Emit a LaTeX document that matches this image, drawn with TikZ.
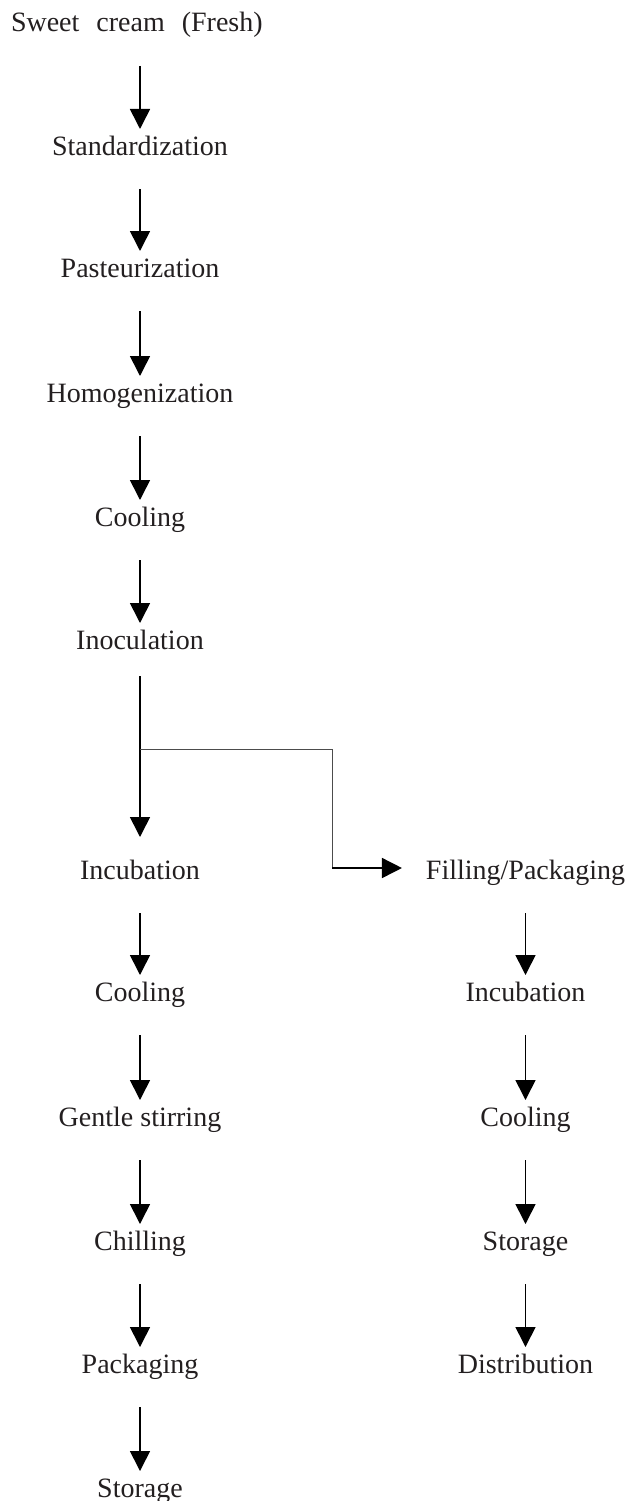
\documentclass[tikz,border=0pt]{standalone}
\usepackage{fontspec}
\setmainfont{Liberation Serif}
\usetikzlibrary{arrows.meta}
\definecolor{ink}{HTML}{231F20}
\begin{document}
\begin{tikzpicture}[x=1pt,y=1pt,
  stage/.style={anchor=base, inner xsep=0pt, inner ysep=8pt, outer sep=0pt,
    text height=18pt, text depth=26pt, text=ink,
    font=\fontsize{28pt}{34pt}\selectfont},
  flow/.style={line width=1.6pt, -{Triangle[length=20pt,width=20pt]}},
  branchline/.style={line width=0.9pt, draw=black!70}]
\useasboundingbox (0,0) rectangle (624,-1501);
% left column
\node[stage, anchor=base west] (s0) at (11,-32) {Sweet\hspace{17pt}cream\hspace{17pt}(Fresh)};
\node[stage] (s1) at (140,-155) {Standardization};
\node[stage] (s2) at (140,-277) {Pasteurization};
\node[stage] (s3) at (140,-402) {Homogenization};
\node[stage] (s4) at (140,-526) {Cooling};
\node[stage] (s5) at (140,-649) {Inoculation};
\node[stage] (s6) at (140,-879) {Incubation};
\node[stage] (s7) at (140,-1001) {Cooling};
\node[stage] (s8) at (140,-1126) {Gentle stirring};
\node[stage] (s9) at (140,-1250) {Chilling};
\node[stage] (s10) at (140,-1373) {Packaging};
\node[stage] (s11) at (140,-1497) {Storage};
% right column
\node[stage] (r1) at (525.5,-879) {Filling/Packaging};
\node[stage] (r2) at (525.5,-1001) {Incubation};
\node[stage] (r3) at (525.5,-1126) {Cooling};
\node[stage] (r4) at (525.5,-1250) {Storage};
\node[stage] (r5) at (525.5,-1373) {Distribution};
% left arrows
\draw[flow] (s0.south -| s1.south) -- (s1.north);
\draw[flow] (s1.south) -- (s2.north);
\draw[flow] (s2.south) -- (s3.north);
\draw[flow] (s3.south) -- (s4.north);
\draw[flow] (s4.south) -- (s5.north);
\draw[flow, shorten <=-7pt, shorten >=16pt] (s5.south) -- (s6.north);
\draw[flow] (s6.south) -- (s7.north);
\draw[flow] (s7.south) -- (s8.north);
\draw[flow] (s8.south) -- (s9.north);
\draw[flow] (s9.south) -- (s10.north);
\draw[flow] (s10.south) -- (s11.north);
% branch
\coordinate (br) at (140,-749);
\coordinate (knee) at (332,-868);
\draw[branchline] (br) -| (knee);
\draw[flow] (knee) -- ([xshift=-24pt,yshift=11pt]r1.base west);
% right arrows
\draw[flow] (r1.south) -- (r2.north);
\draw[flow] (r2.south) -- (r3.north);
\draw[flow] (r3.south) -- (r4.north);
\draw[flow] (r4.south) -- (r5.north);
\end{tikzpicture}
\end{document}
